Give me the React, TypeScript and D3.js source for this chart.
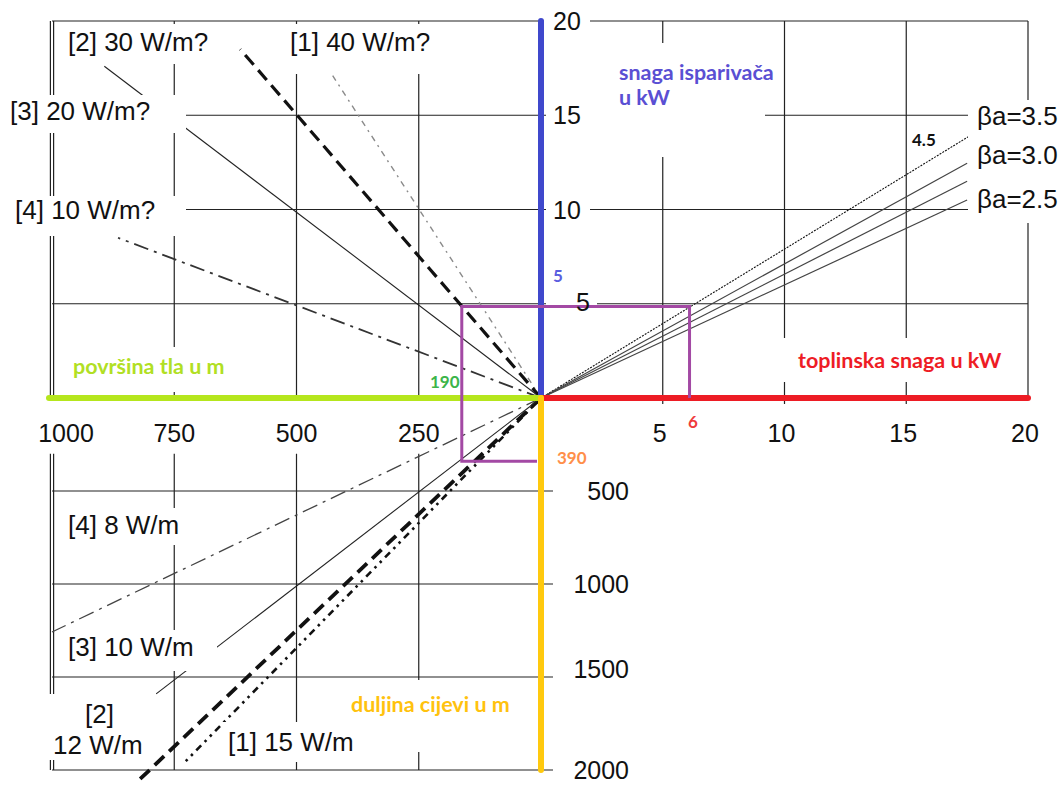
import { useEffect, useRef } from 'react';
import * as d3 from 'd3';

// axis ticks
const heatTicks = [5, 10, 15, 20];
const evapTicks = [5, 10, 15, 20];
const areaTicks = [250, 500, 750, 1000];
const pipeTicks = [500, 1000, 1500, 2000];

// βa lines (upper right): end point as heat kW / evaporator kW
const betaNames = ['4.5', '3.5', '3.0', '2.5'];
const betaEndHeat = [17.6, 17.5, 17.5, 17.5];
const betaEndEvap = [13.9, 12.45, 11.5, 10.5];

// ground lines (upper left): end point as area m² / evaporator kW
const groundNames = ['[1] 40 W/m?', '[2] 30 W/m?', '[3] 20 W/m?', '[4] 10 W/m?'];
const groundEndArea = [426, 615, 893, 865];
const groundEndEvap = [17.1, 18.5, 17.6, 8.5];

// pipe lines (lower left): end point as area m² / pipe length m
const pipeNames = ['[1] 15 W/m', '[2] 12 W/m', '[3] 10 W/m', '[4] 8 W/m'];
const pipeEndArea = [730, 822, 787, 1000];
const pipeEndLength = [1962, 2054, 1591, 1258];

// worked example (purple path)
const exampleHeat = 6.1;
const exampleEvap = 4.85;
const exampleArea = 162;
const exampleLength = 340;

const W = 1064;
const H = 786;
const NUM_FONT = '"Liberation Sans", Arial, sans-serif';
const BOLD_FONT = 'Lato, "Open Sans", sans-serif';

const groundStyles = [
  { stroke: '#8a8a8a', width: 1.4, dash: '6,5,2,5' },
  { stroke: '#111', width: 3.2, dash: '13,7' },
  { stroke: '#222', width: 1.1, dash: '' },
  { stroke: '#333', width: 1.8, dash: '15,6,3,6' },
];
const pipeStyles = [
  { stroke: '#111', width: 2.6, dash: '7,5,2.5,5,2.5,5' },
  { stroke: '#111', width: 3.8, dash: '13,7' },
  { stroke: '#222', width: 1.1, dash: '' },
  { stroke: '#444', width: 1.3, dash: '16,6,3,6' },
];

export default function App() {
  const svgRef = useRef<SVGSVGElement>(null);

  useEffect(() => {
    document.body.style.margin = '0';
    if (!svgRef.current) return;
    const svg = d3.select(svgRef.current);
    svg.selectAll('*').remove();

    const xHeat = d3.scaleLinear().domain([0, 20]).range([541, 1028]);
    const yEvap = d3.scaleLinear().domain([0, 20]).range([398, 21]);
    const xArea = d3.scaleLinear().domain([0, 1000]).range([541, 52]);
    const yPipe = d3.scaleLinear().domain([0, 2000]).range([398, 770]);

    const ox = xHeat(0);
    const oy = yEvap(0);

    svg.append('rect').attr('width', W).attr('height', H).attr('fill', '#fff');

    // ---- grid
    const grid = svg.append('g').attr('stroke', '#222').attr('stroke-width', 1.2);
    const seg = (x1: number, y1: number, x2: number, y2: number) =>
      grid.append('line').attr('x1', x1).attr('y1', y1).attr('x2', x2).attr('y2', y2);

    // upper left
    evapTicks.forEach((t) => seg(xArea(1000), yEvap(t), ox, yEvap(t)));
    areaTicks.filter((t) => t < 1000).forEach((t) => seg(xArea(t), yEvap(20), xArea(t), oy));
    // upper right
    evapTicks.forEach((t) => seg(ox, yEvap(t), xHeat(20), yEvap(t)));
    heatTicks.forEach((t) => seg(xHeat(t), yEvap(20), xHeat(t), t < 20 ? oy + 6 : oy));
    // lower left
    pipeTicks.forEach((t) => seg(xArea(1000), yPipe(t), ox + 12, yPipe(t)));
    areaTicks.filter((t) => t < 1000).forEach((t) => seg(xArea(t), yPipe(300), xArea(t), yPipe(2000)));
    // double frame at 1000 m²
    [-1.6, 1.6].forEach((d) => {
      seg(xArea(1000) + d, yEvap(20), xArea(1000) + d, oy);
      seg(xArea(1000) + d, yPipe(300), xArea(1000) + d, yPipe(2000));
    });

    // ---- curves
    const line = d3.line<[number, number]>();
    const curves = svg.append('g').attr('fill', 'none');
    betaNames.forEach((_, i) => {
      curves
        .append('path')
        .attr('d', line([[ox, oy], [xHeat(betaEndHeat[i]), yEvap(betaEndEvap[i])]]))
        .attr('stroke', i === 0 ? '#111' : '#444')
        .attr('stroke-width', i === 0 ? 1.1 : 1.2)
        .attr('stroke-dasharray', i === 0 ? '2,1.2' : null);
    });
    groundNames.forEach((_, i) => {
      const s = groundStyles[i];
      curves
        .append('path')
        .attr('d', line([[ox, oy], [xArea(groundEndArea[i]), yEvap(groundEndEvap[i])]]))
        .attr('stroke', s.stroke)
        .attr('stroke-width', s.width)
        .attr('stroke-dasharray', s.dash || null);
    });
    pipeNames.forEach((_, i) => {
      const s = pipeStyles[i];
      curves
        .append('path')
        .attr('d', line([[ox, oy], [xArea(pipeEndArea[i]), yPipe(pipeEndLength[i])]]))
        .attr('stroke', s.stroke)
        .attr('stroke-width', s.width)
        .attr('stroke-dasharray', s.dash || null);
    });

    // ---- white label backgrounds (they break the grid like in the original)
    const boxes: Array<[number, number, number, number]> = [
      [62, 24, 153, 40], // [2] 30
      [283, 24, 157, 50], // [1] 40
      [5, 95, 181, 38], // [3] 20
      [10, 196, 176, 40], // [4] 10
      [55, 347, 180, 45], // površina
      [544, 8, 46, 30], // 20
      [596, 43, 169, 114], // snaga isparivača
      [546, 95, 50, 30], // 15
      [546, 195, 44, 27], // 10
      [546, 285, 51, 30], // 5
      [779, 338, 231, 44], // toplinska snaga
      [968, 100, 96, 123], // βa
      [62, 508, 120, 37], // [4] 8
      [62, 630, 155, 41], // [3] 10
      [45, 694, 105, 66], // [2] 12
      [222, 722, 173, 40], // [1] 15
      [345, 680, 175, 72], // duljina
    ];
    svg
      .append('g')
      .selectAll('rect')
      .data(boxes)
      .join('rect')
      .attr('x', (d) => d[0])
      .attr('y', (d) => d[1])
      .attr('width', (d) => d[2])
      .attr('height', (d) => d[3])
      .attr('fill', '#fff');

    // ---- coloured axes
    const axes = svg.append('g').attr('stroke-width', 6).attr('stroke-linecap', 'round');
    axes.append('line').attr('x1', ox).attr('y1', oy).attr('x2', ox).attr('y2', yEvap(20)).attr('stroke', '#3f48cc');
    axes.append('line').attr('x1', ox).attr('y1', oy).attr('x2', xHeat(20)).attr('y2', oy).attr('stroke', '#ed1c24');
    axes.append('line').attr('x1', ox).attr('y1', oy).attr('x2', xArea(1000) - 3).attr('y2', oy).attr('stroke', '#b5e61d');
    axes.append('line').attr('x1', ox).attr('y1', oy).attr('x2', ox).attr('y2', yPipe(2000)).attr('stroke', '#ffc90e');

    // ---- worked example
    svg
      .append('path')
      .attr(
        'd',
        line([
          [xHeat(exampleHeat), oy],
          [xHeat(exampleHeat), yEvap(exampleEvap)],
          [xArea(exampleArea), yEvap(exampleEvap)],
          [xArea(exampleArea), yPipe(exampleLength)],
          [ox - 4, yPipe(exampleLength)],
        ])
      )
      .attr('fill', 'none')
      .attr('stroke', '#a349a4')
      .attr('stroke-width', 3);

    // ---- texts
    const txt = (
      s: string,
      x: number,
      y: number,
      opts: { size?: number; fill?: string; anchor?: string; font?: string; weight?: string } = {}
    ) =>
      svg
        .append('text')
        .attr('x', x)
        .attr('y', y)
        .attr('text-anchor', opts.anchor ?? 'start')
        .attr('fill', opts.fill ?? '#111')
        .style('font-family', opts.font ?? NUM_FONT)
        .style('font-weight', opts.weight ?? 'normal')
        .style('font-size', `${opts.size ?? 25}px`)
        .text(s);

    // axis numbers
    evapTicks.forEach((t) => txt(String(t), t === 5 ? 576 : 553, yEvap(t) + (t === 5 ? 7 : 9)));
    heatTicks.forEach((t) => txt(String(t), xHeat(t) - 3, 442, { anchor: 'middle' }));
    areaTicks.forEach((t) => txt(String(t), Math.max(xArea(t), 66), 442, { anchor: 'middle' }));
    pipeTicks.forEach((t) => txt(String(t), 629, yPipe(t) + (t === 1500 ? 1 : 9), { anchor: 'end' }));

    // line labels
    const up = [
      [290, 51],
      [68, 51],
      [10, 120],
      [15, 219],
    ];
    groundNames.forEach((n, i) => txt(n, up[i][0], up[i][1], { size: 26 }));
    txt(pipeNames[0], 228, 751, { size: 26 });
    txt('[2]', 85, 723, { size: 26 });
    txt(pipeNames[1].replace('[2] ', ''), 53, 754, { size: 26 });
    txt(pipeNames[2], 68, 656, { size: 26 });
    txt(pipeNames[3], 68, 534, { size: 26 });

    const betaY = [0, 125, 164, 208];
    betaNames.slice(1).forEach((bn, i) => txt(`βa=${bn}`, 977, betaY[i + 1], { size: 26 }));
    txt(betaNames[0], 912, 146, { size: 17, font: BOLD_FONT, weight: 'bold' });

    // coloured captions
    const b = { font: BOLD_FONT, weight: 'bold', size: 21.5 };
    txt('snaga isparivača', 619, 80, { ...b, fill: '#5a4fd3' });
    txt('u kW', 619, 105, { ...b, fill: '#5a4fd3' });
    txt('toplinska snaga u kW', 798, 368, { ...b, fill: '#ee1c25' });
    txt('površina tla u m', 73, 374, { ...b, fill: '#b1df24' });
    txt('duljina cijevi u m', 351, 712, { ...b, fill: '#ffc20e' });

    // example values
    const e = { font: BOLD_FONT, weight: 'bold', size: 17 };
    txt('5', 553, 282, { ...e, fill: '#5a5ee0' });
    txt('6', 688, 428, { ...e, fill: '#ef3b3b' });
    txt('190', 430, 388, { ...e, fill: '#3cb54a' });
    txt('390', 557, 464, { ...e, fill: '#ff8f4a' });
  }, []);

  return (
    <svg
      ref={svgRef}
      width={W}
      height={H}
      style={{ position: 'absolute', left: 0, top: 0, display: 'block' }}
    />
  );
}
